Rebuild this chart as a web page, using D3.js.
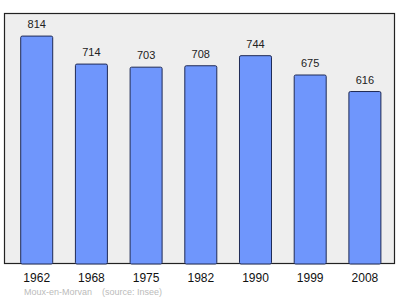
<!DOCTYPE html>
<html>
<head>
<meta charset="utf-8">
<script src="https://cdn.jsdelivr.net/npm/d3@7"></script>
<style>
  body { margin: 0; background: #fff; }
  svg { display: block; }
</style>
</head>
<body>
<script>
// population by census year
var years = ["1962", "1968", "1975", "1982", "1990", "1999", "2008"];
var population = [814, 714, 703, 708, 744, 675, 616];
var caption = "Moux-en-Morvan    (source: Insee)";

var W = 400, H = 299;
var FRAME_L = 4.5, FRAME_T = 13.5, FRAME_R = 394.5, FRAME_B = 263.5;

var svg = d3.select("body").append("svg")
	.attr("width", W)
	.attr("height", H);

// plot area
svg.append("rect")
	.attr("x", FRAME_L)
	.attr("y", FRAME_T)
	.attr("width", FRAME_R - FRAME_L)
	.attr("height", FRAME_B - FRAME_T)
	.attr("fill", "#eeeeee")
	.attr("stroke", "#222")
	.attr("stroke-width", 1.2);

var x = d3.scaleBand()
	.domain(years)
	.range([4.3, 397.3])
	.paddingInner(0.415)
	.paddingOuter(0.3);

var y = d3.scaleLinear()
	.domain([0, 900])
	.range([264, 12]);

svg.selectAll(".bar")
	.data(population)
	.enter()
	.append("rect")
	.attr("class", "bar")
	.attr("x", function(d, i) { return x(years[i]); })
	.attr("y", function(d) { return y(d); })
	.attr("width", x.bandwidth())
	.attr("height", function(d) { return y(0) - y(d); })
	.attr("rx", 1.5)
	.attr("fill", "#6f96fc")
	.attr("stroke", "#1f2a55")
	.attr("stroke-width", 1);

// value labels
svg.selectAll(".val")
	.data(population)
	.enter()
	.append("text")
	.attr("class", "val")
	.attr("x", function(d, i) { return x(years[i]) + x.bandwidth() / 2; })
	.attr("y", function(d) { return y(d) - 8; })
	.attr("text-anchor", "middle")
	.attr("font-family", "Liberation Sans, Arial, sans-serif")
	.attr("font-size", "11px")
	.attr("fill", "#222")
	.text(function(d) { return d; });

// x axis labels
var xAxis = d3.axisBottom(x).tickSize(0).tickPadding(0);
var gx = svg.append("g")
	.attr("transform", "translate(0," + 273 + ")")
	.call(xAxis);
gx.select(".domain").remove();
gx.selectAll("text")
	.attr("font-family", "Liberation Sans, Arial, sans-serif")
	.attr("font-size", "12px")
	.attr("fill", "#111")
	.attr("dy", "0.71em");

// caption
svg.append("text")
	.attr("x", 24)
	.attr("y", 295)
	.attr("font-family", "Liberation Sans, Arial, sans-serif")
	.attr("font-size", "9px")
	.attr("fill", "#bbbbbb")
	.attr("xml:space", "preserve")
	.style("white-space", "pre")
	.text(caption);
</script>
</body>
</html>
